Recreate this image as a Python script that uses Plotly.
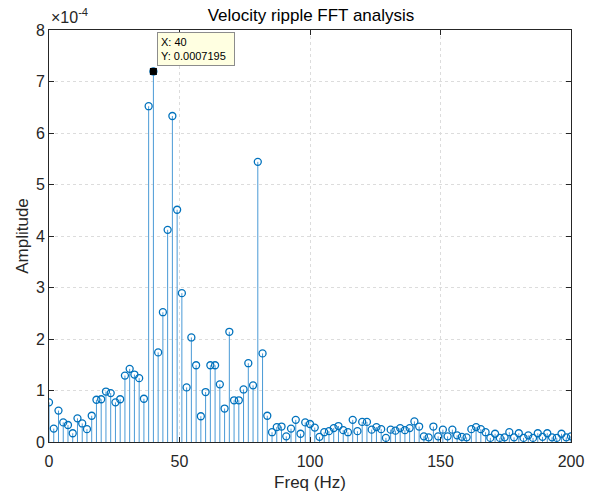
import plotly.graph_objects as go

# Frequency resolution (Hz) and amplitudes (x1e-4)
df = 20 / 11
amp_e4 = [
    0.77, 0.26, 0.61, 0.38, 0.33, 0.17, 0.46, 0.36, 0.25, 0.51,
    0.82, 0.83, 0.98, 0.95, 0.77, 0.83, 1.29, 1.42, 1.31, 1.24,
    0.84, 6.52, 7.195, 1.74, 2.52, 4.12, 6.33, 4.51, 2.89, 1.06,
    2.03, 1.49, 0.50, 0.97, 1.49, 1.49, 1.12, 0.65, 2.14, 0.81,
    0.81, 1.02, 1.53, 1.10, 5.44, 1.72, 0.51, 0.19, 0.29, 0.30,
    0.11, 0.26, 0.43, 0.16, 0.38, 0.35, 0.28, 0.10, 0.19, 0.21,
    0.27, 0.31, 0.23, 0.19, 0.43, 0.21, 0.39, 0.39, 0.24, 0.29,
    0.25, 0.08, 0.24, 0.22, 0.27, 0.23, 0.27, 0.40, 0.30, 0.11,
    0.09, 0.30, 0.11, 0.24, 0.11, 0.24, 0.13, 0.10, 0.09, 0.25,
    0.29, 0.25, 0.19, 0.08, 0.16, 0.08, 0.09, 0.19, 0.09, 0.17,
    0.08, 0.13, 0.08, 0.17, 0.10, 0.17, 0.09, 0.08, 0.16, 0.09,
    0.11,
]
freq = [i * df for i in range(len(amp_e4))]
tip_index = 22

x_ticks = [0, 50, 100, 150, 200]
y_ticks = [0, 1, 2, 3, 4, 5, 6, 7, 8]

FONT = "Liberation Sans, Arial, sans-serif"

stem_x, stem_y = [], []
for f, a in zip(freq, amp_e4):
    stem_x += [f, f, None]
    stem_y += [0, a, None]

fig = go.Figure()
fig.add_trace(go.Scatter(
    x=stem_x, y=stem_y, mode="lines",
    line=dict(color="#4a9ad6", width=1), hoverinfo="skip", showlegend=False,
))
fig.add_trace(go.Scatter(
    x=freq, y=amp_e4, mode="markers",
    marker=dict(symbol="circle-open", size=7, color="#0072BD",
                line=dict(width=1.3, color="#0072BD")),
    showlegend=False,
))
fig.add_trace(go.Scatter(
    x=[freq[tip_index]], y=[amp_e4[tip_index]], mode="markers",
    marker=dict(symbol="square", size=7, color="black"),
    showlegend=False,
))

tip_text = f"X: {freq[tip_index]:.4g}<br>Y: {amp_e4[tip_index] * 1e-4:.4g}"
fig.add_annotation(
    x=freq[tip_index], y=amp_e4[tip_index], xref="x", yref="y",
    text=tip_text, showarrow=False, xanchor="left", yanchor="bottom",
    xshift=4, yshift=5, align="left", width=70,
    font=dict(family=FONT, size=11, color="black"),
    bgcolor="#FFFFE1", bordercolor="#8c8c8c", borderwidth=1, borderpad=3,
)
fig.add_annotation(
    x=0, y=1, xref="paper", yref="paper", xanchor="left", yanchor="bottom",
    text="×10<sup>-4</sup>", showarrow=False, yshift=2,
    font=dict(family=FONT, size=16, color="#262626"),
)

axis_common = dict(
    showline=True, linecolor="#262626", linewidth=1, mirror="ticks",
    ticks="inside", ticklen=5, tickcolor="#262626",
    showgrid=True, gridcolor="#dcdcdc", griddash="dot", gridwidth=1,
    zeroline=False, automargin=False,
    tickfont=dict(family=FONT, size=16, color="#262626"),
)

fig.update_layout(
    width=593, height=493,
    margin=dict(l=49, r=22, t=30, b=51),
    paper_bgcolor="white", plot_bgcolor="white",
    title=dict(text="Velocity ripple FFT analysis", x=0.5245,
               xanchor="center", y=0.969, yanchor="middle",
               font=dict(family=FONT, size=17, color="black")),
    xaxis=dict(range=[0, 200], tickvals=x_ticks, ticklabelstandoff=5,
               title=dict(text="Freq (Hz)", standoff=6,
                          font=dict(family=FONT, size=17, color="#262626")),
               **axis_common),
    yaxis=dict(range=[0, 8], tickvals=y_ticks,
               title=dict(text="Amplitude", standoff=2,
                          font=dict(family=FONT, size=17, color="#262626")),
               **axis_common),
)

fig.write_html(
    "out.html",
    config={"displayModeBar": False},
    post_script="document.body.style.margin='0';document.body.style.overflow='hidden';",
)
